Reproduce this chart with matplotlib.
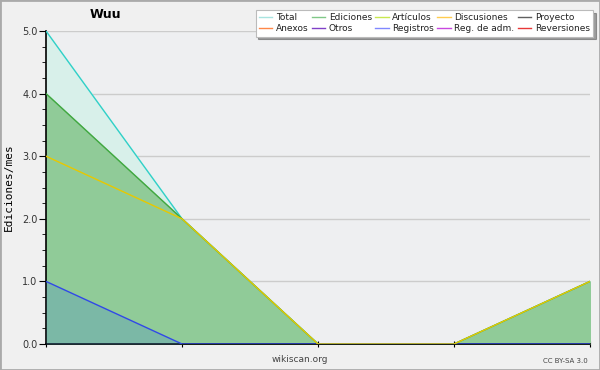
import numpy as np
import matplotlib
matplotlib.use('Agg')
import matplotlib.pyplot as plt
from matplotlib.lines import Line2D
from matplotlib.ticker import MultipleLocator

months = [0, 1, 2, 3, 4]
total = [5, 2, 0, 0, 1]
ediciones = [4, 2, 0, 0, 1]
discusiones = [3, 2, 0, 0, 1]
registros = [1, 0, 0, 0, 0]

legend_names = ['Total', 'Ediciones', 'Artículos', 'Discusiones', 'Proyecto',
                'Anexos', 'Otros', 'Registros', 'Reg. de adm.', 'Reversiones']
legend_colors = ['#a8e4e0', '#80c888', '#c8e850', '#ffcc50', '#606060',
                 '#ff8848', '#8040c8', '#8088ff', '#c848e0', '#e83838']

bg = '#eeeff1'
fig = plt.figure(figsize=(6, 3.7), dpi=100, facecolor='#f0f0f0')
ax = fig.add_axes([46/600, 26/370, 544/600, 313/370])
ax.set_facecolor(bg)

ax.fill_between(months, total, color='#d8f0ea', zorder=1)
ax.plot(months, total, color='#30d0c8', lw=1, zorder=4)
ax.fill_between(months, ediciones, color='#90cb98', zorder=2)
ax.plot(months, ediciones, color='#40a840', lw=1, zorder=4)
ax.fill_between(months, registros, color='#4080d0', alpha=0.25, lw=0, zorder=3)
ax.plot(months, registros, color='#3048e8', lw=1, zorder=5)
ax.plot(months, discusiones, color='#e8c800', lw=1, zorder=6)

ax.set_xlim(0, 4)
ax.set_ylim(0, 5)
ax.set_xticks(months)
ax.set_xticklabels([])
ax.yaxis.set_major_locator(MultipleLocator(1))
ax.yaxis.set_minor_locator(MultipleLocator(0.25))
ax.set_yticks(np.arange(0, 6), ['%.1f' % v for v in range(6)])
ax.tick_params(axis='y', which='major', length=5, labelsize=7, labelcolor='#333333', pad=1)
ax.tick_params(axis='y', which='minor', length=3)
ax.tick_params(axis='x', length=5, direction='inout')
ax.grid(axis='y', color='#cccccc', lw=1, zorder=0)
ax.set_axisbelow(True)
for s in ['top', 'right']:
    ax.spines[s].set_visible(False)
ax.spines['left'].set_linewidth(1.2)
ax.spines['bottom'].set_linewidth(1.2)
ax.set_ylabel('Ediciones/mes', fontsize=8, family='DejaVu Sans Mono', labelpad=6)

fig.text(105/600, 1 - 15/370, 'Wuu', fontsize=9, fontweight='bold', ha='center', va='center')
fig.text(300/600, 1 - 360/370, 'wikiscan.org', fontsize=6.5, color='#444444', ha='center', va='center')
fig.text(588/600, 1 - 361/370, 'CC BY-SA 3.0', fontsize=5, color='#444444', ha='right', va='center')

# legend is row-wise in the reference, matplotlib fills by column
order = [0, 5, 1, 6, 2, 7, 3, 8, 4, 9]
handles = [Line2D([], [], color=legend_colors[i], lw=1) for i in order]
labels = [legend_names[i] for i in order]
leg = fig.legend(handles, labels, ncol=5, loc='upper right', bbox_to_anchor=(593/600, 1 - 10/370),
                 fontsize=6.5, frameon=True, fancybox=False, shadow=True, handlelength=1.5,
                 handletextpad=0.4, columnspacing=0.35, labelspacing=0.25, borderpad=0.35,
                 borderaxespad=0)
leg.get_frame().set_edgecolor('#bbbbbb')
leg.get_frame().set_linewidth(0.8)
for t in leg.get_texts():
    t.set_color('#222222')

fig.patches.append(plt.Rectangle((0, 0), 1, 1, transform=fig.transFigure, fill=False,
                                 edgecolor='#aaaaaa', lw=2))
fig.savefig('out.png', dpi=100, facecolor=fig.get_facecolor())
